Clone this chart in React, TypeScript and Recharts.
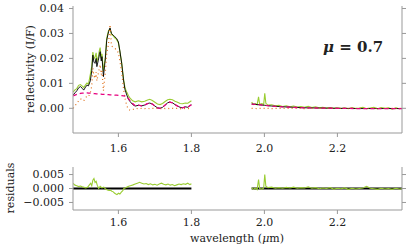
import { ComposedChart, Line, XAxis, YAxis } from 'recharts';

// wavelength grid, short-wave segment (µm)
const wlA = [
  1.476, 1.481, 1.486, 1.491, 1.496, 1.501, 1.505, 1.51, 1.514, 1.518,
  1.523, 1.527, 1.53, 1.533, 1.536, 1.539, 1.541, 1.545, 1.548, 1.55,
  1.553, 1.555, 1.559, 1.562, 1.564, 1.568, 1.573, 1.577, 1.581, 1.586,
  1.59, 1.595, 1.6, 1.604, 1.609, 1.614, 1.618, 1.623, 1.628, 1.632,
  1.639, 1.646, 1.655, 1.664, 1.672, 1.68, 1.686, 1.693, 1.7, 1.707,
  1.714, 1.721, 1.728, 1.735, 1.741, 1.748, 1.755, 1.762, 1.769, 1.776,
  1.783, 1.79, 1.796, 1.8,
];
const modelA = [
  0.0053, 0.0062, 0.007, 0.0082, 0.0087, 0.008, 0.0073, 0.0085, 0.0093, 0.009,
  0.011, 0.015, 0.0213, 0.0185, 0.018, 0.02, 0.0167, 0.0193, 0.0215, 0.0227,
  0.019, 0.0207, 0.0127, 0.017, 0.0193, 0.0273, 0.0307, 0.0322, 0.03, 0.0293,
  0.0287, 0.028, 0.0266, 0.023, 0.018, 0.0113, 0.0075, 0.0053, 0.0035, 0.0027,
  0.0015, 0.0009, 0.0012, 0.001, 0.0013, 0.0019, 0.0021, 0.0017, 0.0009, 0.0002,
  0.0, 0.0004, 0.0013, 0.0022, 0.0025, 0.0022, 0.0015, 0.0009, 0.0004, 0.0002,
  0.0006, 0.0004, 0.0011, 0.0014,
];
const observedA = [
  0.0066, 0.0074, 0.0079, 0.0092, 0.0095, 0.0089, 0.0083, 0.0094, 0.0101, 0.0097,
  0.0135, 0.0168, 0.0225, 0.0198, 0.0205, 0.0222, 0.0185, 0.0208, 0.0232, 0.0243,
  0.02, 0.0218, 0.0148, 0.0182, 0.0205, 0.0281, 0.0312, 0.0318, 0.0296, 0.029,
  0.0282, 0.0276, 0.0262, 0.0228, 0.0182, 0.0118, 0.0083, 0.0064, 0.0049, 0.0041,
  0.003, 0.0026, 0.003, 0.0026, 0.0028, 0.0033, 0.0036, 0.0031, 0.0024, 0.0017,
  0.0015, 0.0019, 0.0027, 0.0034, 0.0036, 0.0034, 0.0028, 0.0024, 0.0019, 0.0018,
  0.0021, 0.002, 0.0026, 0.003,
];
const iceA = [
  0.0, 0.001, 0.002, 0.003, 0.0038, 0.0035, 0.003, 0.0042, 0.005, 0.0048,
  0.006, 0.009, 0.016, 0.013, 0.012, 0.0145, 0.011, 0.014, 0.016, 0.0175,
  0.0135, 0.015, 0.007, 0.0115, 0.014, 0.022, 0.0258, 0.0335, 0.025, 0.0245,
  0.024, 0.0235, 0.0222, 0.019, 0.0145, 0.008, 0.004, 0.001, -0.0005, -0.0008,
  -0.0005, 0.0, -0.0002, 0.0, -0.0001, 0.0, -0.0002, 0.0, -0.0001, 0.0,
  -0.0002, 0.0, -0.0001, 0.0, -0.0002, 0.0, -0.0001, 0.0, -0.0002, 0.0,
  -0.0001, 0.0, -0.0002, 0.0,
];
const darkA = [
  0.005, 0.0053, 0.0056, 0.0058, 0.006, 0.0061, 0.0061, 0.0062, 0.0062, 0.0061,
  0.0061, 0.006, 0.006, 0.0059, 0.0059, 0.0058, 0.0058, 0.0058, 0.0057, 0.0057,
  0.0057, 0.0056, 0.0056, 0.0056, 0.0055, 0.0055, 0.0055, 0.0054, 0.0054, 0.0054,
  0.0053, 0.0053, 0.0052, 0.0052, 0.0051, 0.005, 0.0049, 0.0047, 0.0038, 0.0031,
  0.0019, 0.001, 0.0013, 0.001, 0.0013, 0.0019, 0.0022, 0.0017, 0.0009, 0.0002,
  0.0, 0.0004, 0.0013, 0.0022, 0.0025, 0.0022, 0.0015, 0.0009, 0.0004, 0.0002,
  0.0006, 0.0004, 0.0011, 0.0014,
];

// long-wave segment: smooth components on a coarse grid
const wlB = [1.965, 1.98, 2.0, 2.02, 2.05, 2.08, 2.11, 2.15, 2.2, 2.25, 2.3, 2.377];
const modelB = [0.0017, 0.0015, 0.0012, 0.0009, 0.0006, 0.0004, 0.0002, 0.0001, 0.0, -0.0001, -0.0001, -0.0001];
const iceB = [0.0, -0.0001, 0.0, -0.0001, 0.0, 0.0, -0.0001, 0.0, 0.0, 0.0, 0.0, 0.0];
const darkB = [0.0017, 0.0015, 0.0012, 0.0009, 0.0006, 0.0004, 0.0002, 0.0001, 0.0, -0.0001, -0.0001, -0.0001];

// long-wave segment: observed spectrum and residuals
const wlBobs = [
  1.965, 1.97, 1.975, 1.98, 1.984, 1.987, 1.993, 1.998, 2.001, 2.004,
  2.01, 2.02, 2.03, 2.04, 2.05, 2.06, 2.07, 2.08, 2.09, 2.1,
  2.11, 2.12, 2.13, 2.14, 2.15, 2.16, 2.17, 2.18, 2.19, 2.2,
  2.21, 2.22, 2.23, 2.24, 2.25, 2.26, 2.27, 2.28, 2.29, 2.3,
  2.31, 2.32, 2.33, 2.34, 2.35, 2.36, 2.37, 2.377,
];
const observedB = [
  0.0025, 0.0015, 0.0019, 0.0014, 0.0046, 0.0016, 0.0019, 0.0015, 0.006, 0.002,
  0.0013, 0.0014, 0.001, 0.0012, 0.0007, 0.001, 0.0006, 0.0009, 0.0005, 0.0007,
  0.0004, 0.0008, 0.0003, 0.0006, 0.0002, 0.0004, 0.0001, 0.0003, 0.0, 0.0002,
  -0.0001, 0.0002, -0.0002, 0.0003, -0.0001, 0.0001, 0.0004, -0.0002, 0.0001, 0.0004,
  -0.0002, 0.0003, 0.0, 0.0002, -0.0003, 0.0002, -0.0002, 0.0,
];
const residB = [
  0.0003, -0.0003, 0.0002, -0.0004, 0.0032, 0.0, -0.0002, 0.0001, 0.005, 0.0008,
  0.0003, 0.0005, 0.0001, 0.0003, 0.0001, 0.0004, 0.0002, 0.0005, 0.0001, 0.0003,
  0.0002, 0.0006, 0.0001, 0.0003, -0.0001, 0.0002, 0.0, 0.0003, -0.0002, 0.0001,
  -0.0001, 0.0002, -0.0003, 0.0001, -0.0002, 0.0, 0.0002, 0.0008, 0.0001, -0.0001,
  -0.0003, 0.0001, -0.0002, 0.0, -0.0003, 0.0001, -0.0002, -0.0001,
];

// short-wave residuals
const wlRes = [
  1.476, 1.481, 1.486, 1.491, 1.496, 1.501, 1.506, 1.511, 1.516, 1.521,
  1.524, 1.527, 1.53, 1.533, 1.536, 1.539, 1.542, 1.546, 1.55, 1.555,
  1.56, 1.565, 1.57, 1.574, 1.578, 1.582, 1.586, 1.589, 1.592, 1.596,
  1.6, 1.604, 1.608, 1.612, 1.615, 1.62, 1.625, 1.63, 1.635, 1.64,
  1.646, 1.652, 1.658, 1.664, 1.67, 1.676, 1.682, 1.688, 1.694, 1.7,
  1.706, 1.712, 1.718, 1.724, 1.73, 1.736, 1.742, 1.748, 1.754, 1.76,
  1.766, 1.772, 1.778, 1.784, 1.79, 1.796, 1.8,
];
const residA = [
  0.0018, 0.0012, 0.001, 0.0007, 0.0009, 0.0006, 0.0004, 0.0002, 0.0005, 0.0014,
  0.0019, 0.001, 0.003, 0.0036, 0.0022, 0.0026, 0.0012, 0.0, 0.0008, 0.0002,
  0.0005, -0.0002, -0.0005, -0.0007, -0.0006, -0.001, -0.0012, -0.0016, -0.0019, -0.0022,
  -0.0017, -0.002, -0.0013, -0.0008, 0.0, 0.0003, 0.0006, 0.0009, 0.0011, 0.0013,
  0.0016, 0.0019, 0.0022, 0.0019, 0.0016, 0.0018, 0.0014, 0.0017, 0.0013, 0.0015,
  0.0012, 0.0016, 0.0019, 0.0015, 0.0013, 0.0016, 0.0012, 0.0014, 0.001, 0.0013,
  0.0016, 0.0014, 0.0017, 0.0015, 0.0019, 0.0014, 0.0017,
];

const xTicks = [1.6, 1.8, 2.0, 2.2];
const reflTicks = [0, 0.01, 0.02, 0.03, 0.04];
const residTicks = [-0.005, 0, 0.005];

const GAP = 1.88;
function series(a: number[], ya: number[], b: number[], yb: number[]) {
  return [
    ...a.map((x, i) => ({ x, y: ya[i] })),
    { x: GAP, y: null },
    ...b.map((x, i) => ({ x, y: yb[i] })),
  ];
}

const observed = series(wlA, observedA, wlBobs, observedB);
const model = series(wlA, modelA, wlB, modelB);
const ice = series(wlA, iceA, wlB, iceB);
const dark = series(wlA, darkA, wlB, darkB);
const resid = series(wlRes, residA, wlBobs, residB);
const zero = series([1.476, 1.8], [0, 0], [1.965, 2.377], [0, 0]);

const FONT = 'DejaVu Serif';
const tickStyle = { fontFamily: FONT, fontSize: 11, fill: '#222' };
const AXIS = '#999';
const X_DOMAIN = [1.4756, 2.377];
const blank = () => '';
const minus = (v: number, d: number) => v.toFixed(d).replace('-', '\u2212');

const label: React.CSSProperties = {
  position: 'absolute',
  fontFamily: FONT,
  fontSize: 11,
  color: '#222',
  whiteSpace: 'nowrap',
};

function frame(yDomain: number[], yTicks: number[], digits: number, xMargin: number, xHeight: number) {
  return [
    <XAxis key="xb" xAxisId="b" dataKey="x" type="number" domain={X_DOMAIN} ticks={xTicks} allowDataOverflow interval={0}
      tickFormatter={(v: number) => v.toFixed(1)} tick={tickStyle} stroke={AXIS} tickSize={4} tickMargin={xMargin} height={xHeight} />,
    <XAxis key="xt" xAxisId="t" orientation="top" dataKey="x" type="number" domain={X_DOMAIN} ticks={xTicks} allowDataOverflow interval={0}
      tickFormatter={blank} height={0} stroke={AXIS} tickSize={4} />,
    <YAxis key="yl" yAxisId="l" domain={yDomain} ticks={yTicks} allowDataOverflow width={60} interval={0}
      tickFormatter={(v: number) => minus(v, digits)} tick={tickStyle} stroke={AXIS} tickSize={4} tickMargin={5} />,
    <YAxis key="yr" yAxisId="r" orientation="right" domain={yDomain} ticks={yTicks} allowDataOverflow width={5} interval={0}
      tickFormatter={blank} stroke={AXIS} tickSize={4} />,
  ];
}

export default function App() {
  return (
    <div style={{ position: 'fixed', left: 0, top: 0, width: 415, height: 251, background: '#fff' }}>
      <div style={{ position: 'absolute', left: 0, top: 0 }}>
        <ComposedChart width={415} height={160} margin={{ top: 6, right: 8, bottom: 0, left: 13 }}>
          {frame([-0.0099, 0.041], reflTicks, 2, 7, 27)}
          <Line xAxisId="b" yAxisId="l" data={observed} dataKey="y" type="linear" stroke="#9acd32" strokeWidth={1.1} dot={false} isAnimationActive={false} />
          <Line xAxisId="b" yAxisId="l" data={model} dataKey="y" type="linear" stroke="#000" strokeWidth={0.9} dot={false} isAnimationActive={false} />
          <Line xAxisId="b" yAxisId="l" data={ice} dataKey="y" type="linear" stroke="#e0701a" strokeWidth={1.2} strokeDasharray="1 3" dot={false} isAnimationActive={false} />
          <Line xAxisId="b" yAxisId="l" data={dark} dataKey="y" type="linear" stroke="#e6007e" strokeWidth={1.3} strokeDasharray="4 3" dot={false} isAnimationActive={false} />
        </ComposedChart>
      </div>
      <div style={{ position: 'absolute', left: 0, top: 150 }}>
        <ComposedChart width={415} height={101} margin={{ top: 17, right: 8, bottom: 0, left: 13 }}>
          {frame([-0.0077, 0.0077], residTicks, 3, 4, 41)}
          <Line xAxisId="b" yAxisId="l" data={zero} dataKey="y" type="linear" stroke="#000" strokeWidth={2} dot={false} isAnimationActive={false} />
          <Line xAxisId="b" yAxisId="l" data={resid} dataKey="y" type="linear" stroke="#9acd32" strokeWidth={1.1} dot={false} isAnimationActive={false} />
        </ComposedChart>
      </div>
      <div style={{ ...label, left: 30, top: 69, transform: 'translate(-50%, -50%) rotate(-90deg)' }}>reflectivity (I/F)</div>
      <div style={{ ...label, left: 10, top: 188, transform: 'translate(-50%, -50%) rotate(-90deg)' }}>residuals</div>
      <div style={{ ...label, left: 237, top: 238, transform: 'translate(-50%, -50%)' }}>
        wavelength (<i>μ</i>m)
      </div>
      <div style={{ ...label, left: 323, top: 47, transform: 'translateY(-50%)', fontSize: 15, fontWeight: 'bold' }}>
        <i>μ</i> = 0.7
      </div>
    </div>
  );
}
